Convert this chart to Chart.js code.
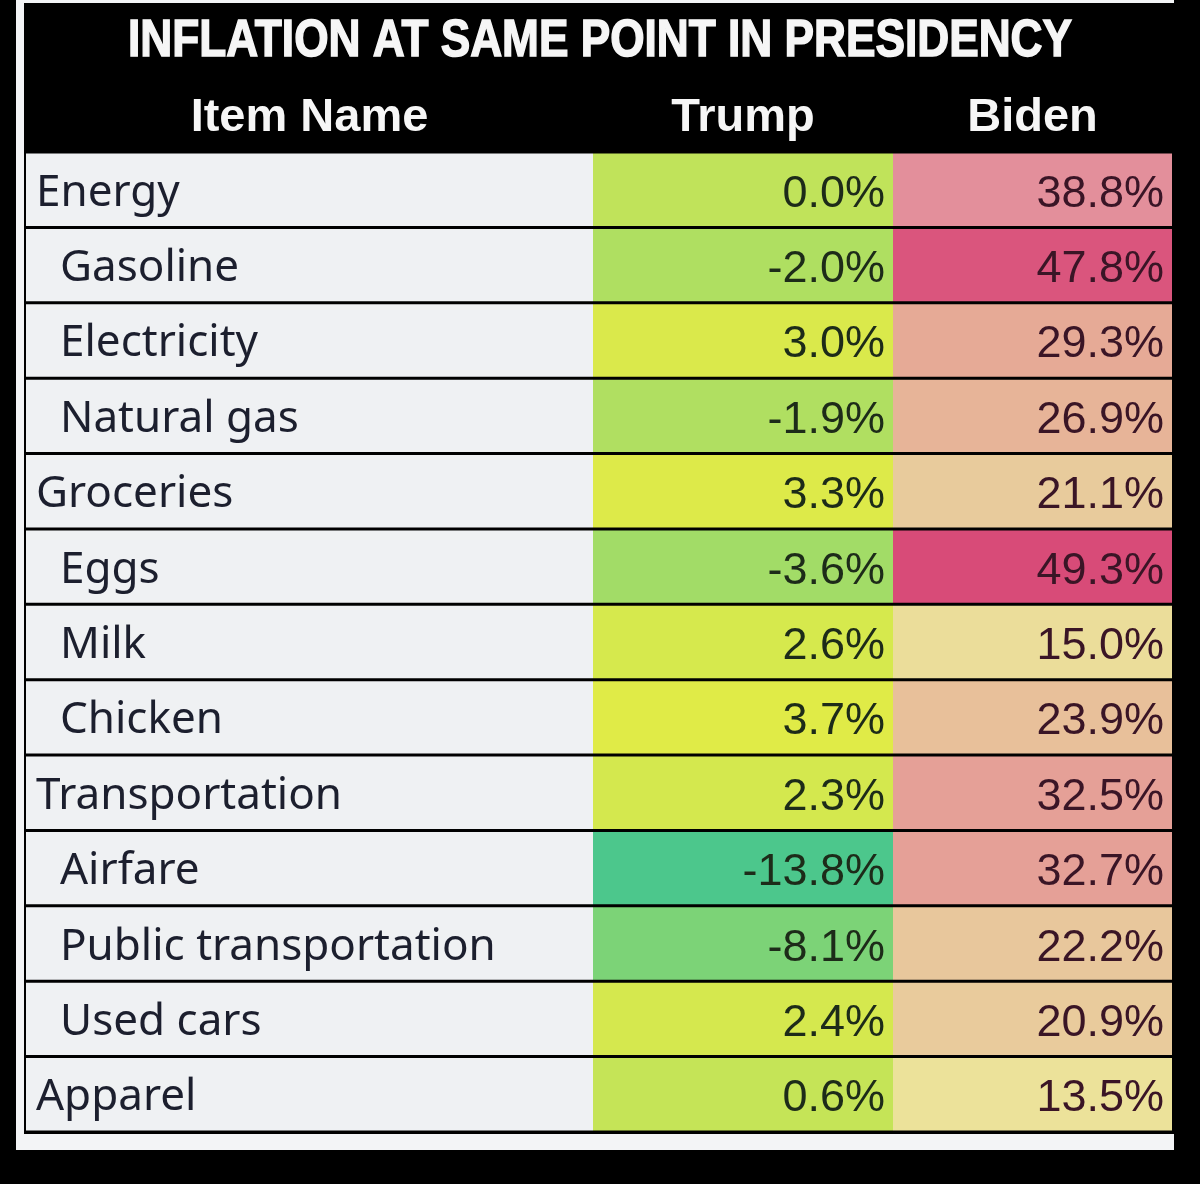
<!DOCTYPE html>
<html>
<head>
<meta charset="utf-8">
<title>Inflation at same point in presidency</title>
<script src="https://cdn.jsdelivr.net/npm/chart.js@4.4.1/dist/chart.umd.min.js"></script>
<style>
  html, body { margin: 0; padding: 0; background: #000; }
  canvas { display: block; }
</style>
</head>
<body>
<canvas id="chart" width="1200" height="1184"></canvas>
<script>
// table content
const title = "INFLATION AT SAME POINT IN PRESIDENCY";
const headers = ["Item Name", "Trump", "Biden"];
const items = [
  "Energy", "Gasoline", "Electricity", "Natural gas",
  "Groceries", "Eggs", "Milk", "Chicken",
  "Transportation", "Airfare", "Public transportation", "Used cars",
  "Apparel"
];
// 1 = sub item (indented under its group)
const indent = [0, 1, 1, 1, 0, 1, 1, 1, 0, 1, 1, 1, 0];
const trump = [0.0, -2.0, 3.0, -1.9, 3.3, -3.6, 2.6, 3.7, 2.3, -13.8, -8.1, 2.4, 0.6];
const biden = [38.8, 47.8, 29.3, 26.9, 21.1, 49.3, 15.0, 23.9, 32.5, 32.7, 22.2, 20.9, 13.5];

// layout / style
const COL_WIDTHS = [567, 300, 279];
const TABLE = { left: 26, right: 1172, top: 152, bottom: 1132 };

// conditional formatting colour scales (like the spreadsheet)
const trumpStops = [[-13.8, "#4cc78c"], [0, "#c0e35a"], [3.7, "#e0eb47"]];
const bidenStops = [[13.5, "#ece29a"], [22, "#e8c89c"], [30, "#e6a795"], [39, "#e38e9b"], [49.3, "#d84b78"]];

function hexToRgb(h) {
  return [parseInt(h.slice(1, 3), 16), parseInt(h.slice(3, 5), 16), parseInt(h.slice(5, 7), 16)];
}

function scaleColor(v, stops) {
  if (v <= stops[0][0]) return stops[0][1];
  for (let i = 1; i < stops.length; i++) {
    if (v <= stops[i][0]) {
      const t = (v - stops[i - 1][0]) / (stops[i][0] - stops[i - 1][0]);
      const a = hexToRgb(stops[i - 1][1]);
      const b = hexToRgb(stops[i][1]);
      const c = a.map((x, k) => Math.round(x + (b[k] - x) * t));
      return `rgb(${c[0]},${c[1]},${c[2]})`;
    }
  }
  return stops[stops.length - 1][1];
}

const fmt = (v) => v.toFixed(1) + "%";

const tablePlugin = {
  id: "tablePlugin",
  beforeDraw(chart) {
    const ctx = chart.ctx;
    ctx.save();
    ctx.fillStyle = "#000";
    ctx.fillRect(0, 0, chart.width, chart.height);
    // white sheet frame around the table
    ctx.fillStyle = "#f3f4f6";
    ctx.fillRect(16, 0, 8, 1150);
    ctx.fillRect(16, 1134, TABLE.right - 14, 16);
    ctx.fillRect(16, 0, TABLE.right - 14, 3);
    ctx.restore();
  },
  afterDatasetsDraw(chart) {
    const ctx = chart.ctx;
    ctx.save();
    // item names
    const nameMeta = chart.getDatasetMeta(0);
    ctx.font = "44px 'Noto Sans'";
    ctx.fillStyle = "#1c1f2e";
    ctx.textAlign = "left";
    ctx.textBaseline = "alphabetic";
    nameMeta.data.forEach((bar, i) => {
      const p = bar.getProps(["x", "base", "y"], true);
      ctx.fillText(items[i], p.base + (indent[i] ? 34 : 10), p.y + 16);
    });
    // values
    ctx.font = "45px 'Liberation Sans'";
    ctx.textAlign = "right";
    [[1, trump, "#1d2b19"], [2, biden, "#3a1526"]].forEach(([di, vals, col]) => {
      ctx.fillStyle = col;
      chart.getDatasetMeta(di).data.forEach((bar, i) => {
        const p = bar.getProps(["x", "y"], true);
        ctx.fillText(fmt(vals[i]), p.x - 8, p.y + 17);
      });
    });
    ctx.restore();
  },
  afterDraw(chart) {
    const ctx = chart.ctx;
    const xs = chart.scales.x;
    ctx.save();
    ctx.fillStyle = "#f6f6f6";
    ctx.strokeStyle = "#f6f6f6";
    ctx.textBaseline = "alphabetic";
    ctx.textAlign = "center";
    // title, condensed to the width it has in the sheet
    ctx.font = "bold 52px 'Liberation Sans'";
    const w = ctx.measureText(title).width;
    const sx = 944 / w;
    ctx.save();
    ctx.translate(600, 56);
    ctx.scale(sx, 1);
    ctx.lineWidth = 1.5;
    ctx.fillText(title, 0, 0);
    ctx.strokeText(title, 0, 0);
    ctx.restore();
    // column headers centred over their columns
    ctx.font = "bold 47px 'Liberation Sans'";
    let start = 0;
    headers.forEach((h, i) => {
      const mid = xs.getPixelForValue(start + COL_WIDTHS[i] / 2);
      ctx.fillText(h, mid, 131);
      start += COL_WIDTHS[i];
    });
    ctx.restore();
  }
};

new Chart(document.getElementById("chart"), {
  type: "bar",
  data: {
    labels: items,
    datasets: [
      {
        label: headers[0],
        data: items.map(() => COL_WIDTHS[0]),
        backgroundColor: "#eff1f3"
      },
      {
        label: headers[1],
        data: trump.map(() => COL_WIDTHS[1]),
        backgroundColor: trump.map(v => scaleColor(v, trumpStops))
      },
      {
        label: headers[2],
        data: biden.map(() => COL_WIDTHS[2]),
        backgroundColor: biden.map(v => scaleColor(v, bidenStops))
      }
    ]
  },
  options: {
    indexAxis: "y",
    responsive: false,
    animation: false,
    devicePixelRatio: 1,
    layout: {
      padding: {
        left: TABLE.left,
        right: 1200 - TABLE.right,
        top: TABLE.top,
        bottom: 1184 - TABLE.bottom
      }
    },
    datasets: {
      bar: { barPercentage: 1, categoryPercentage: 0.96, borderWidth: 0 }
    },
    scales: {
      x: {
        stacked: true,
        display: false,
        min: 0,
        max: COL_WIDTHS[0] + COL_WIDTHS[1] + COL_WIDTHS[2]
      },
      y: { stacked: true, display: false }
    },
    plugins: {
      legend: { display: false },
      tooltip: { enabled: false },
      title: { display: false }
    }
  },
  plugins: [tablePlugin]
});
</script>
</body>
</html>
